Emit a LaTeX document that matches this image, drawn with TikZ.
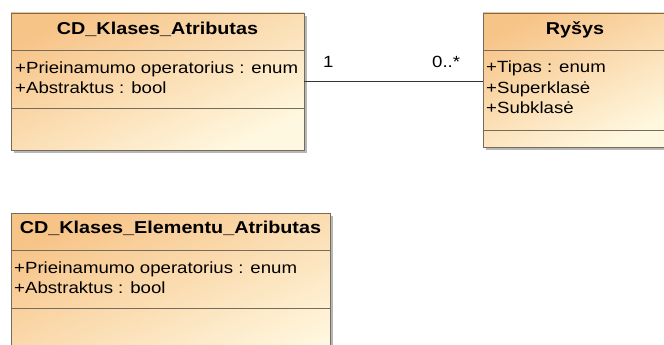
\documentclass[tikz,border=0pt]{standalone}
\usepackage{fontspec}
\setmainfont{Liberation Sans}
\newfontfamily\umlfont[FakeStretch=1.15]{Liberation Sans}
\usetikzlibrary{shadows}
\definecolor{umlA}{RGB}{247,196,136}
\definecolor{umlB}{RGB}{255,248,224}
\definecolor{umlLine}{RGB}{118,108,92}
\begin{document}
\begin{tikzpicture}[x=1pt,y=-1pt,
  umlbox/.style={draw=umlLine, line width=0.8pt, inner sep=0pt, outer sep=0pt,
    top color=umlA, bottom color=umlB, shading angle=25,
    drop shadow={shadow xshift=3pt, shadow yshift=-3pt, fill=black!35, opacity=0.8}},
  umlsep/.style={draw=umlLine, line width=0.8pt},
  umltitle/.style={font=\umlfont\fontsize{17.2}{20}\selectfont\bfseries, anchor=base, inner sep=0pt},
  umlattr/.style={font=\umlfont\fontsize{16.2}{19}\selectfont, anchor=base west, inner sep=0pt},
  assoc/.style={draw=black!80, line width=0.8pt}]
\useasboundingbox[fill=white] (0,0) rectangle (664,345);

% class 1
\node[umlbox, minimum width=293pt, minimum height=137pt] (c1) at (157.5,81.5) {};
\draw[umlsep] (11,50) -- (304,50);
\draw[umlsep] (11,108) -- (304,108);
\node[umltitle] (c1t) at (157.5,35) {CD\_Klases\_Atributas};
\node[umlattr] (c1a) at (15,74) {+Prieinamumo operatorius : enum};
\node[umlattr] (c1b) at (15,93) {+Abstraktus : bool};

% class 2
\node[umlbox, minimum width=184pt, minimum height=134pt] (c2) at (575,80) {};
\draw[umlsep] (483,50) -- (667,50);
\draw[umlsep] (483,130) -- (667,130);
\node[umltitle] (c2t) at (575,35) {Ryšys};
\node[umlattr] (c2a) at (486,73) {+Tipas : enum};
\node[umlattr] (c2b) at (486,93) {+Superklasė};
\node[umlattr] (c2c) at (486,113) {+Subklasė};

% class 3
\node[umlbox, minimum width=319pt, minimum height=167pt] (c3) at (170.5,296.5) {};
\draw[umlsep] (11,250) -- (330,250);
\draw[umlsep] (11,308) -- (330,308);
\node[umltitle] (c3t) at (170.5,233) {CD\_Klases\_Elementu\_Atributas};
\node[umlattr] (c3a) at (14,273) {+Prieinamumo operatorius : enum};
\node[umlattr] (c3b) at (14,293) {+Abstraktus : bool};

% association
\draw[assoc] (c1.east) -- (c1.east -| c2.west);
\node[umlattr] (m1) at (323,68) {1};
\node[umlattr] (m2) at (432,68) {0..*};
\end{tikzpicture}
\end{document}
